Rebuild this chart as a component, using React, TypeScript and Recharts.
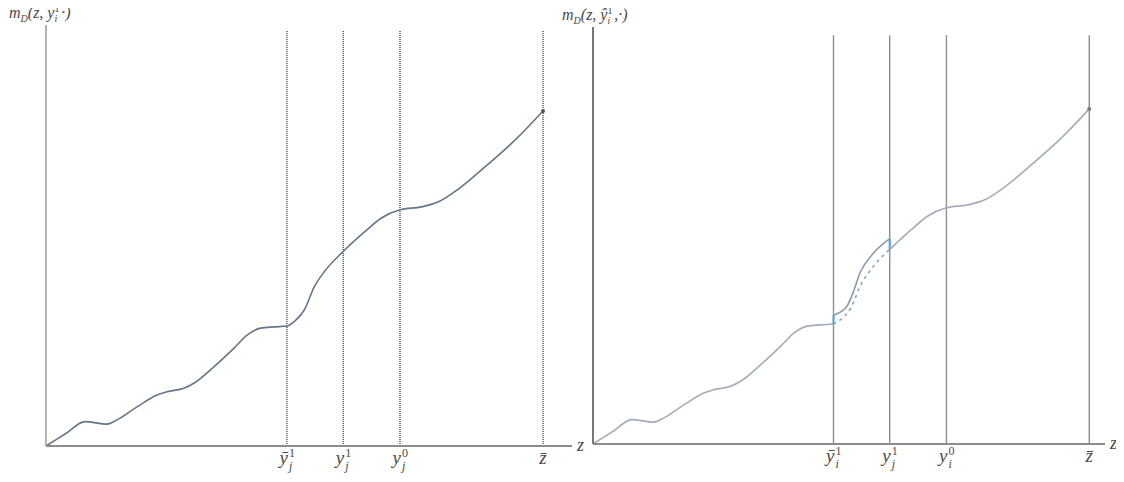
import { LineChart, Line, XAxis, YAxis, ReferenceLine, ReferenceDot, Label } from 'recharts'

// the curve m_D(z, ·)
const zPts = [0, 3.7, 7.4, 11.6, 13.5, 17.3, 21.1, 23.0, 26.2, 28.1, 31.9, 35.7, 38.3, 40.8, 43.4, 45.8, 47.5, 49.1, 51.0, 52.9, 56.5, 60.6, 63.7, 67.3, 71.4, 74.6, 77.7, 82.8, 89.2, 94.5]
const mPts = [0, 2.9, 5.8, 5.2, 6.2, 9.3, 12.1, 12.9, 13.7, 14.9, 18.8, 23.2, 26.4, 28.0, 28.3, 28.5, 29.9, 32.3, 37.8, 41.4, 46.2, 50.9, 54.1, 56.1, 56.8, 58.0, 60.4, 65.6, 72.7, 79.6]

// raised piece of the curve on the right panel, between the first two marks
const zShift = [45.8, 48.3, 49.5, 50.9, 53.3, 56.5]
const mShift = [30.6, 32.6, 35.9, 40.8, 45.2, 48.8]

// marked z positions and their labels
const markTicks = [45.8, 56.5, 67.3, 94.5]
const leftTickLabels = [
  { base: 'ȳ', sub: 'j', sup: '1' },
  { base: 'y', sub: 'j', sup: '1' },
  { base: 'y', sub: 'j', sup: '0' },
  { base: 'z\u0304', sub: '', sup: '' },
]
const rightTickLabels = [
  { base: 'ȳ', sub: 'i', sup: '1' },
  { base: 'y', sub: 'j', sup: '1' },
  { base: 'y', sub: 'i', sup: '0' },
  { base: 'z\u0304', sub: '', sup: '' },
]

const FONT = "'Liberation Serif', 'DejaVu Serif', serif"
const TEXT = '#4a4a4a'

const curve = zPts.map((z, i) => ({ z, m: mPts[i] }))
const shifted = zShift.map((z, i) => ({ z, m: mShift[i] }))
const [yBar, y1] = markTicks
const baseBefore = curve.filter((d) => d.z <= yBar)
const baseAfter = curve.filter((d) => d.z >= y1)
const dashedPart = curve.filter((d) => d.z >= yBar && d.z <= y1)
const mAt = (z: number) => curve.find((d) => d.z === z)?.m ?? 0
const jumpLow = [{ z: yBar, m: mAt(yBar) }, shifted[0]]
const jumpHigh = [shifted[shifted.length - 1], { z: y1, m: mAt(y1) }]
const endPt = curve[curve.length - 1]

// axis line sits at 446 (left) / 444 (right); ticks are placed from it
const makeTick = (labels: typeof leftTickLabels, axisY: number) => (props: any) => {
  const { x, payload } = props
  const idx = markTicks.indexOf(payload.value)
  const lab = labels[idx]
  if (!lab) return <g />
  const hasScripts = lab.sub !== ''
  return (
    <g fontFamily={FONT} fontStyle="italic" fill={TEXT}>
      <text x={hasScripts ? x + 1 : x} y={axisY + 18} fontSize={19} textAnchor={hasScripts ? 'end' : 'middle'}>
        {lab.base}
      </text>
      {hasScripts && (
        <>
          <text x={x + 2} y={axisY + 11} fontSize={12} fontStyle="normal">
            {lab.sup}
          </text>
          <text x={x + 2} y={axisY + 24} fontSize={12}>
            {lab.sub}
          </text>
        </>
      )}
    </g>
  )
}

const YTitle = ({ viewBox, dx, dy, hat }: any) => (
  <text
    x={viewBox.x + dx}
    y={viewBox.y + dy}
    fontFamily={FONT}
    fontStyle="italic"
    fontSize={16}
    fill={TEXT}
  >
    <tspan>m</tspan>
    <tspan fontSize={10} dy={4}>D</tspan>
    <tspan dy={-4}>(z, {hat}</tspan>
    <tspan fontSize={10} dy={-6} fontStyle="normal">1</tspan>
    <tspan fontSize={10} dx={-5} dy={10}>i</tspan>
    <tspan dy={-4}>{hat === 'y' ? ' ·)' : ' ,·)'}</tspan>
  </text>
)

const ZLabel = ({ viewBox }: any) => (
  <text
    x={viewBox.x + viewBox.width + 5}
    y={viewBox.y + 5}
    fontFamily={FONT}
    fontStyle="italic"
    fontSize={18}
    fill={TEXT}
  >
    z
  </text>
)

const LeftPanel = () => (
  <LineChart width={590} height={482} margin={{ top: 25, right: 18, bottom: 6, left: 45 }}>
    <XAxis
      type="number"
      dataKey="z"
      domain={[0, 100]}
      ticks={markTicks}
      tick={makeTick(leftTickLabels, 446)}
      tickLine={false}
      height={30}
      axisLine={{ stroke: '#8c8c8c', strokeWidth: 2 }}
      allowDataOverflow
    >
      <Label content={<ZLabel />} />
    </XAxis>
    <YAxis
      type="number"
      domain={[0, 100]}
      width={1}
      tick={false}
      tickLine={false}
      axisLine={{ stroke: '#9a9a9a', strokeWidth: 1.5 }}
    >
      <Label content={<YTitle dx={-36} dy={-7} hat="y" />} />
    </YAxis>
    {markTicks.map((t) => (
      <ReferenceLine
        key={t}
        segment={[{ x: t, y: 0 }, { x: t, y: 98.8 }]}
        stroke="#3c3c3c"
        strokeDasharray="1 1"
        strokeWidth={1.3}
      />
    ))}
    <Line
      data={curve}
      dataKey="m"
      type="monotone"
      stroke="#647689"
      strokeWidth={1.6}
      dot={false}
      isAnimationActive={false}
    />
    <ReferenceDot x={endPt.z} y={endPt.m} r={2} fill="#555" stroke="none" />
  </LineChart>
)

const RightPanel = () => (
  <LineChart width={564} height={482} margin={{ top: 27, right: 19, bottom: 8, left: 32 }}>
    <XAxis
      type="number"
      dataKey="z"
      domain={[0, 97.5]}
      ticks={markTicks}
      tick={makeTick(rightTickLabels, 444)}
      tickLine={false}
      height={30}
      axisLine={{ stroke: '#8c8c8c', strokeWidth: 2 }}
      allowDataOverflow
    >
      <Label content={<ZLabel />} />
    </XAxis>
    <YAxis
      type="number"
      domain={[0, 99.05]}
      width={1}
      tick={false}
      tickLine={false}
      axisLine={{ stroke: '#777', strokeWidth: 2 }}
    >
      <Label content={<YTitle dx={-30} dy={-7} hat="ŷ" />} />
    </YAxis>
    {markTicks.map((t) => (
      <ReferenceLine
        key={t}
        segment={[{ x: t, y: 0 }, { x: t, y: 97.1 }]}
        stroke="#8f8f8f"
        strokeWidth={1.4}
      />
    ))}
    <Line data={baseBefore} dataKey="m" type="monotone" stroke="#a2adb9" strokeWidth={1.6} dot={false} isAnimationActive={false} />
    <Line data={baseAfter} dataKey="m" type="monotone" stroke="#a2adb9" strokeWidth={1.6} dot={false} isAnimationActive={false} />
    <Line
      data={dashedPart}
      dataKey="m"
      type="monotone"
      stroke="#8ea3b8"
      strokeWidth={1.6}
      strokeDasharray="3 4"
      dot={false}
      isAnimationActive={false}
    />
    <Line data={shifted} dataKey="m" type="monotone" stroke="#8a9bb0" strokeWidth={1.6} dot={false} isAnimationActive={false} />
    <Line data={jumpLow} dataKey="m" type="linear" stroke="#4ea9dc" strokeWidth={2} dot={false} isAnimationActive={false} />
    <Line data={jumpHigh} dataKey="m" type="linear" stroke="#4ea9dc" strokeWidth={2} dot={false} isAnimationActive={false} />
    <ReferenceDot x={endPt.z} y={endPt.m} r={2} fill="#777" stroke="none" />
  </LineChart>
)

export default function App() {
  return (
    <div style={{ position: 'relative', width: 1124, height: 482, margin: -8, background: '#fff' }}>
      <div style={{ position: 'absolute', left: 0, top: 0 }}>
        <LeftPanel />
      </div>
      <div style={{ position: 'absolute', left: 560, top: 0 }}>
        <RightPanel />
      </div>
    </div>
  )
}
